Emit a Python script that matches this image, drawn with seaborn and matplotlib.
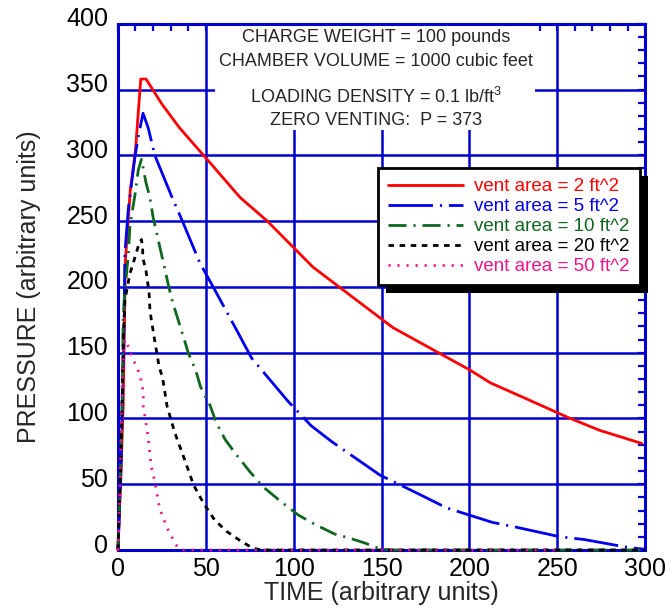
import matplotlib
matplotlib.use("Agg")
import pandas as pd
import matplotlib.pyplot as plt
import seaborn as sns
from matplotlib.patches import Rectangle
from matplotlib.transforms import IdentityTransform, ScaledTranslation

# pressure histories, one pair per vent area
time_2 = [0, 1.5, 3, 3.7, 4.2, 7, 10, 13, 16, 25, 35, 52, 69.5, 85, 111, 156.5, 200, 212, 230.6, 255.6, 274, 298]
pres_2 = [0, 50, 110, 170, 219, 273, 304, 358, 358, 339, 321, 295, 268, 250, 215, 169, 137, 127, 116, 101, 91, 81]

time_5 = [0, 1.5, 2.5, 3.5, 4, 5.9, 7.8, 9.7, 11.6, 14.3, 17.2, 21, 30.5, 37, 46.7, 55, 68, 76, 96.8, 110,
          121.6, 135, 149, 156.7, 172, 187, 213, 226, 251.6, 265, 290, 300]
pres_5 = [0, 50, 110, 175, 226, 259, 279, 299, 314.5, 332, 321, 300, 269, 249, 218, 198, 166, 146, 113, 94.4,
          82.4, 70, 57, 52, 42, 32, 21, 17.5, 10, 8, 2, 0.5]

time_10 = [0, 1.5, 2.5, 3, 4, 5.9, 6.8, 9.7, 11.6, 13.4, 16, 18.2, 20, 22, 26.8, 28.6, 31, 34, 36.8, 40, 44.4,
           47, 52.4, 56, 61, 66.6, 75, 82.6, 93, 102.6, 112, 123.5, 132, 140, 149, 155, 300]
pres_10 = [0, 60, 120, 177, 198, 224, 246, 270, 289, 297, 279, 268, 253, 241, 213, 202, 189, 176, 164, 150, 136,
           124, 110, 96.6, 84, 73.8, 59.6, 48, 36.5, 26.6, 19.5, 12, 8.9, 5.5, 1, 0, 0]

time_20 = [0, 1.5, 2.5, 3, 4, 6.8, 8.7, 11.6, 13.4, 14, 14.2, 16, 17.7, 18.2, 19, 20, 21, 22, 23.4, 25.4, 28,
           32.4, 38, 43, 48.6, 55, 62, 70.4, 77, 82, 300]
pres_20 = [0, 60, 120, 160, 190, 210, 218, 231, 236, 231, 222, 212, 196, 183, 175, 167, 158.5, 151, 139.5, 131,
           109, 89, 68.5, 49.5, 35.8, 22.8, 14, 6.3, 1.3, 0, 0]

time_50 = [0, 1, 2, 3, 4, 6.8, 7.8, 10.6, 12.5, 13.4, 14.4, 14.4, 16.3, 17.8, 19, 21, 23.5, 25.8, 28.6, 31.5,
           34.3, 36, 250]
pres_50 = [0, 40, 100, 150, 160, 152, 147, 139.5, 133, 127, 120.5, 109, 94, 78.6, 63, 52, 33, 24, 15, 7.6,
           1.3, 0, 0]

labels = ['vent area = 2 ft^2', 'vent area = 5 ft^2', 'vent area = 10 ft^2',
          'vent area = 20 ft^2', 'vent area = 50 ft^2']
colors = ['#ff0000', '#0000ee', '#10661e', '#000000', '#f0148c']
dash_styles = ['', (32, 5, 1.5, 5), (13, 5, 1.5, 5), (4, 4), (1.5, 5)]

notes = ['CHARGE WEIGHT = 100 pounds', 'CHAMBER VOLUME = 1000 cubic feet',
         'LOADING DENSITY = 0.1 lb/ft$^3$', 'ZERO VENTING:  P = 373']

x_major = [0, 50, 100, 150, 200, 250, 300]
y_major = [0, 50, 100, 150, 200, 250, 300, 350, 400]

series = [(time_2, pres_2), (time_5, pres_5), (time_10, pres_10), (time_20, pres_20), (time_50, pres_50)]
frames = []
for lab, (t, p) in zip(labels, series):
    frames.append(pd.DataFrame({'time': t, 'pressure': p, 'vent': lab}))
df = pd.concat(frames, ignore_index=True)

sns.set_theme(style='white')
plt.rcParams['font.family'] = ['Liberation Sans', 'DejaVu Sans']
plt.rcParams['mathtext.fontset'] = 'custom'
plt.rcParams['mathtext.rm'] = 'Liberation Sans'
plt.rcParams['mathtext.default'] = 'regular'
plt.rcParams['lines.scale_dashes'] = False

AXBLUE = '#0000d0'

fig = plt.figure(figsize=(6.7, 6.1), dpi=100)
ax = fig.add_axes([0.176, 0.0984, 0.787, 0.8626])

sns.lineplot(data=df, x='time', y='pressure', hue='vent', style='vent',
             hue_order=labels, style_order=labels,
             palette=dict(zip(labels, colors)), dashes=dict(zip(labels, dash_styles)),
             sort=False, estimator=None, legend=False, linewidth=2.0,
             zorder=3, clip_on=False, ax=ax)

ax.set_xlim(0, 300)
ax.set_ylim(0, 400)
ax.set_xticks(x_major)
ax.set_yticks(y_major)
ax.set_xticks(range(0, 301, 10), minor=True)
ax.set_yticks(range(0, 401, 10), minor=True)
ax.tick_params(which='both', direction='in', top=True, right=True, length=5, width=1.6,
               color=AXBLUE, labelsize=18, labelcolor='black')
ax.tick_params(axis='x', pad=5)
ax.tick_params(axis='y', pad=7)
for sp in ax.spines.values():
    sp.set_color(AXBLUE)
    sp.set_linewidth(2.2)

# grid by hand so the note box can cover it
for yv in y_major[1:-1]:
    ax.axhline(yv, color=AXBLUE, lw=1.8, zorder=0.8)
for xv in x_major[1:-1]:
    ax.axvline(xv, color=AXBLUE, lw=1.8, zorder=0.8)
ax.add_patch(Rectangle((0.184, 0.798), 0.607, 0.2, transform=ax.transAxes,
                       facecolor='white', edgecolor='none', zorder=1))

ax.set_xlabel('TIME (arbitrary units)', fontsize=18, labelpad=0)
ax.set_ylabel('PRESSURE (arbitrary units)', fontsize=18, labelpad=18)

for lbl in ax.get_yticklabels():
    lbl.set_transform(lbl.get_transform() + ScaledTranslation(0, 5 / 72, fig.dpi_scale_trans))

note_y = [0.973, 0.928, 0.861, 0.817]
for txt, yy in zip(notes, note_y):
    ax.text(0.49, yy, txt, transform=ax.transAxes, ha='center', va='center', fontsize=13, zorder=2)

leg = ax.legend(ax.get_lines()[:5], labels, loc='upper left', bbox_to_anchor=(0.493, 0.726),
                borderaxespad=0, fontsize=13.5, labelcolor='linecolor', handlelength=4.0,
                handletextpad=0.6, labelspacing=0.15, borderpad=0.55, fancybox=False,
                framealpha=1, edgecolor='black')
leg.get_frame().set_linewidth(2)
leg.set_zorder(5)

fig.canvas.draw()
bb = leg.get_window_extent()
ax.add_patch(Rectangle((bb.x0 + 8, bb.y0 - 8), bb.width, bb.height, transform=IdentityTransform(),
                       facecolor='black', edgecolor='none', zorder=4.9, clip_on=False))
ax.set_xlim(0, 300)
ax.set_ylim(0, 400)

fig.savefig('out.png', dpi=100)
